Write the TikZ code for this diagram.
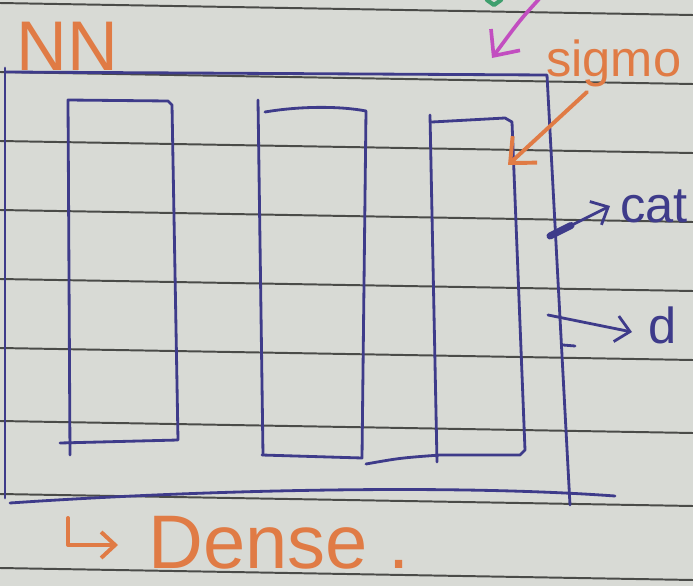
\documentclass[tikz,border=0pt]{standalone}
\usepackage{fontspec}
\setmainfont{Liberation Sans}
\usetikzlibrary{arrows.meta,calc}

\definecolor{paper}{HTML}{D8DAD5}
\definecolor{rule}{HTML}{4A4B48}
\definecolor{pen}{HTML}{3E3B8A}
\definecolor{marker}{HTML}{E07B45}
\definecolor{pinkpen}{HTML}{C24EC0}
\definecolor{greenpen}{HTML}{3F9F6E}

\begin{document}
\begin{tikzpicture}[
    x = 0.025cm, y = -0.025cm, % one unit = one pixel of the page
    > = {Straight Barb[length=3.5mm, width=6.5mm]}, % open hand-drawn head
    line cap = round,
    line join = round
]
\tikzset{
    ruleline/.style = {draw=rule, line width=1.4pt},
    inkline/.style = {draw=pen, line width=2pt},
    markerline/.style = {draw=marker, line width=2.8pt},
    scrawl/.style = {text=marker, inner sep=0pt, font=\fontsize{36}{36}\selectfont},
    inkscrawl/.style = {scrawl, text=pen}
}

% the page
\fill[paper] (0,0) rectangle (693,586);
\clip (0,0) rectangle (693,586);
\foreach \y in {3,72,141,210,279,348,421,494,568}
    \draw[ruleline] (0,\y) -- (693,\y+12);

% outer box
\draw[inkline] (5,72) -- (547,75) -- (570,505);
\draw[inkline] (5,68) -- (5,498);
\draw[inkline] (10,503) .. controls (200,490) and (450,484) .. (615,496);

% three layers
\draw[inkline] (70,455) -- (68,100) -- (168,101) -- (172,105) -- (178,440) -- (60,443);
\draw[inkline] (258,100) -- (263,455);
\draw[inkline] (265,112) .. controls (300,106) and (340,106) .. (366,111) -- (362,458) -- (262,455);
\draw[inkline] (366,464) .. controls (400,458) .. (440,455) -- (520,455) -- (525,450) -- (512,122) -- (505,118) -- (432,122);
\draw[inkline] (430,115) -- (437,462);

% labels
\node[scrawl, font=\fontsize{50}{50}\selectfont, anchor=base west] (netlabel) at (16,70) {NN};
\node[scrawl, font=\fontsize{54}{54}\selectfont, anchor=base west] (denselabel) at (148,568) {Dense .};
\node[scrawl, anchor=base west] (sigmolabel) at (546,76) {sigmo};
\node[inkscrawl, anchor=base west] (catlabel) at (620,222) {cat};
\node[inkscrawl, anchor=base west] (doglabel) at (648,343) {d};

% arrows
\coordinate (hookstart) at (68,518);
\coordinate (hookend) at (118,545);
\coordinate (sigtail) at (587,92);
\coordinate (sigtip) at (508,165);
\coordinate (pinktail) at (540,-2);
\coordinate (pinktip) at (492,58);
\coordinate (catstart) at (550,236);
\coordinate (cattip) at (610,206);
\coordinate (dogstart) at (548,315);
\coordinate (dogtip) at (632,332);

\draw[markerline, ->] (hookstart) |- (hookend);
\draw[markerline, -{Straight Barb[length=5mm, width=9mm]}] (sigtail) -- (sigtip);
\draw[draw=pinkpen, line width=2.6pt, -{Straight Barb[length=5mm, width=9mm]}] (pinktail) .. controls (520,20) .. (pinktip);
\draw[greenpen, line width=3pt] (487,0) -- (494,5) -- (501,0);
\draw[inkline, ->] (catstart) -- (cattip);
\draw[draw=pen, line width=5pt] (catstart) -- ($(catstart)!0.35!(cattip)$);
\draw[inkline, ->] (dogstart) -- (dogtip);
\draw[inkline] (563,345) -- (575,346);
\end{tikzpicture}
\end{document}
